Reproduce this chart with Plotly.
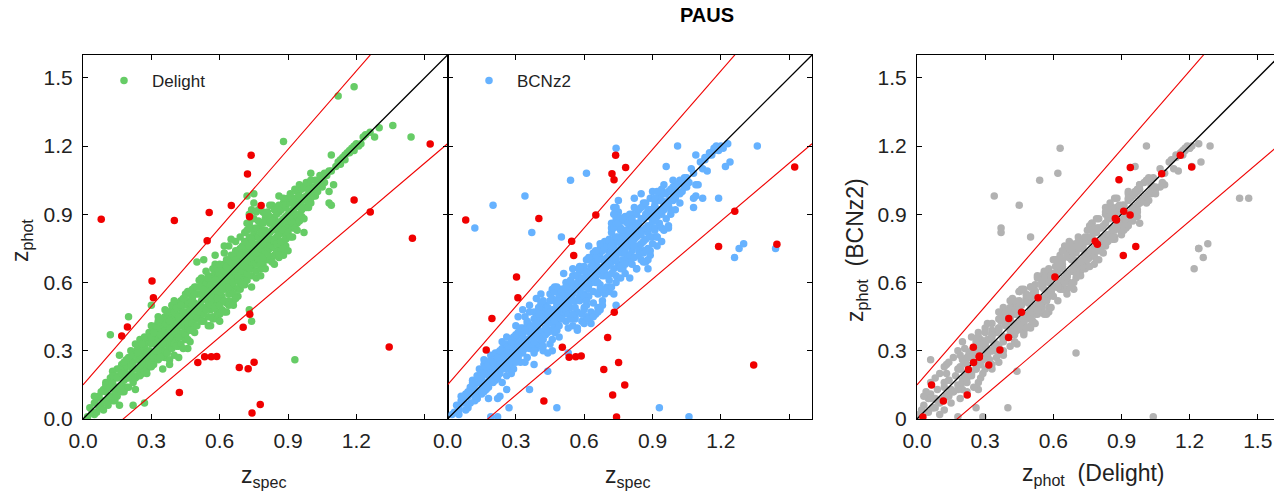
import plotly.graph_objects as go

# ---- main sample: spectroscopic redshift and two photo-z estimates (one entry per galaxy) ----
z_spec = [
    0.02,0.03,0.04,0.05,0.05,0.06,0.07,0.07,0.08,0.09,0.09,0.10,
    0.10,0.11,0.11,0.12,0.12,0.13,0.13,0.14,0.14,0.15,0.15,0.16,0.16,0.17,0.17,0.18,0.18,0.19,0.19,0.19,0.12,0.20,0.13,0.16,0.16,0.18,0.19,
    0.20,0.20,0.21,0.21,0.22,0.22,0.22,0.23,0.23,0.24,0.24,0.24,0.25,0.25,0.25,0.26,0.26,0.26,0.27,0.27,0.27,0.28,0.28,0.28,0.29,0.29,0.29,0.30,0.30,0.30,0.22,0.23,
    0.31,0.31,0.31,0.32,0.32,0.32,0.33,0.33,0.33,0.34,0.34,0.34,0.35,0.35,0.35,0.36,0.36,0.36,0.37,0.37,0.37,0.38,0.38,0.38,0.39,0.39,0.39,0.40,0.40,0.40,0.31,0.33,0.36,0.38,0.39,0.35,
    0.41,0.41,0.41,0.42,0.42,0.42,0.43,0.43,0.43,0.44,0.44,0.44,0.45,0.45,0.45,0.46,0.46,0.46,0.47,0.47,0.47,0.48,0.48,0.48,0.49,0.49,0.49,0.50,0.50,0.50,0.50,0.41,0.43,0.45,0.47,0.49,0.42,0.46,0.48,
    0.51,0.51,0.51,0.52,0.52,0.52,0.53,0.53,0.53,0.54,0.54,0.54,0.55,0.55,0.55,0.56,0.56,0.56,0.57,0.57,0.57,0.58,0.58,0.58,0.59,0.59,0.59,0.60,0.60,0.60,0.51,0.53,0.55,0.57,0.58,0.60,0.56,0.53,
    0.61,0.61,0.61,0.61,0.62,0.62,0.62,0.63,0.63,0.63,0.64,0.64,0.64,0.65,0.65,0.65,0.66,0.66,0.66,0.67,0.67,0.67,0.68,0.68,0.68,0.69,0.69,0.69,0.70,0.70,0.70,0.61,0.62,0.63,0.64,0.66,0.67,0.68,0.69,0.65,0.63,
    0.71,0.71,0.71,0.71,0.72,0.72,0.72,0.72,0.72,0.73,0.73,0.73,0.73,0.74,0.74,0.74,0.74,0.75,0.75,0.75,0.75,0.75,0.76,0.76,0.76,0.76,0.77,0.77,0.77,0.78,0.78,0.78,0.79,0.79,0.79,0.80,0.80,0.80,0.73,0.74,0.71,0.72,0.74,0.76,0.78,0.79,0.77,0.79,
    0.81,0.81,0.81,0.82,0.82,0.82,0.83,0.83,0.83,0.84,0.84,0.84,0.85,0.85,0.85,0.86,0.86,0.86,0.87,0.87,0.88,0.88,0.88,0.88,0.89,0.89,0.89,0.90,0.90,0.90,0.81,0.82,0.83,0.85,0.86,0.87,0.88,0.89,0.80,
    0.91,0.91,0.91,0.92,0.92,0.92,0.93,0.93,0.93,0.93,0.94,0.94,0.94,0.95,0.95,0.95,0.96,0.96,0.96,0.97,0.97,0.98,0.98,0.99,0.99,1.00,1.00,0.92,
    1.00,1.01,1.01,1.02,1.02,1.03,1.04,1.05,1.06,1.07,1.08,1.08,1.09,1.10,1.09,1.09,1.11,1.12,1.12,1.13,1.14,1.15,1.16,1.17,1.18,1.19,1.19,1.20,1.22,1.24,1.23,1.26,1.28,1.30,1.36,1.44,
    0.05,0.06,0.08,0.09,0.10,0.11,0.12,0.13,0.14,0.15,0.15,0.16,0.17,0.17,0.18,0.18,0.19,0.20,0.20,0.21,0.21,0.22,0.22,0.23,0.23,0.24,0.24,0.25,0.25,0.26,0.26,0.27,0.27,0.28,0.28,0.29,0.29,0.30,0.30,0.30,
    0.31,0.31,0.32,0.32,0.33,0.33,0.34,0.34,0.35,0.35,0.36,0.36,0.37,0.37,0.38,0.38,0.39,0.39,0.40,0.40,0.40,0.41,0.41,0.42,0.42,0.43,0.43,0.44,0.44,0.44,0.45,0.45,0.45,0.46,0.46,0.46,0.47,0.47,0.47,0.48,0.48,0.48,0.49,0.49,0.49,0.50,0.50,0.50,0.42,0.44,0.46,0.38,0.36,0.34,0.40,
    0.51,0.51,0.52,0.52,0.53,0.53,0.54,0.54,0.55,0.55,0.56,0.56,0.57,0.57,0.58,0.58,0.59,0.59,0.60,0.60,0.60,0.61,0.61,0.62,0.62,0.63,0.63,0.64,0.64,0.64,0.65,0.65,0.66,0.66,0.66,0.67,0.67,0.68,0.68,0.68,0.69,0.69,0.69,0.70,0.70,0.70,0.57,0.59,0.62,0.64,0.66,0.60,0.55,0.67,0.54,0.58,0.62,0.65,0.52,0.69,
    0.71,0.71,0.72,0.72,0.72,0.73,0.73,0.73,0.74,0.74,0.74,0.74,0.75,0.75,0.75,0.76,0.76,0.76,0.77,0.77,0.77,0.78,0.78,0.78,0.79,0.79,0.79,0.80,0.80,0.80,0.81,0.81,0.81,0.82,0.82,0.82,0.83,0.83,0.84,0.84,0.84,0.85,0.85,0.85,0.86,0.86,0.86,0.87,0.87,0.87,0.88,0.88,0.88,0.89,0.89,0.89,0.90,0.90,0.90,0.78,0.80,0.83,0.86,0.76,0.73,
    0.91,0.91,0.91,0.92,0.92,0.93,0.93,0.94,0.94,0.94,0.95,0.95,0.96,0.96,0.97,0.97,0.97,0.98,0.98,0.99,0.99,1.00,1.00,1.01,1.02,1.03,1.04,1.05,1.06,1.08,
    1.13,1.15,1.17,1.19,1.21,
]
z_delight = [
    0.01,0.05,0.03,0.07,0.02,0.09,0.05,0.10,0.06,0.13,0.08,0.12,
    0.16,0.09,0.14,0.18,0.10,0.16,0.21,0.12,0.19,0.14,0.22,0.13,0.19,0.24,0.15,0.21,0.17,0.26,0.14,0.23,0.37,0.45,0.08,0.28,0.06,0.12,0.18,
    0.18,0.24,0.27,0.20,0.25,0.19,0.06,0.29,0.22,0.26,0.31,0.19,0.28,0.23,0.33,0.24,0.30,0.20,0.07,0.27,0.32,0.25,0.34,0.22,0.30,0.36,0.26,0.28,0.33,0.50,0.29,0.13,
    0.29,0.35,0.24,0.33,0.38,0.27,0.31,0.36,0.40,0.32,0.29,0.34,0.38,0.41,0.30,0.35,0.39,0.27,0.42,0.33,0.37,0.40,0.31,0.45,0.36,0.43,0.34,0.38,0.44,0.28,0.40,0.45,0.45,0.26,0.48,0.22,
    0.40,0.46,0.35,0.43,0.38,0.49,0.41,0.46,0.36,0.44,0.50,0.44,0.47,0.41,0.52,0.45,0.39,0.50,0.48,0.43,0.34,0.47,0.53,0.40,0.44,0.51,0.38,0.49,0.55,0.69,0.50,0.51,0.52,0.35,0.55,0.58,0.32,0.31,0.39,
    0.50,0.55,0.44,0.52,0.58,0.46,0.54,0.49,0.60,0.53,0.57,0.54,0.51,0.59,0.45,0.56,0.61,0.48,0.55,0.63,0.50,0.58,0.52,0.65,0.56,0.62,0.47,0.59,0.64,0.52,0.61,0.43,0.63,0.44,0.68,0.46,0.41,0.70,
    0.60,0.66,0.54,0.62,0.62,0.57,0.68,0.64,0.59,0.70,0.63,0.55,0.67,0.65,0.60,0.72,0.64,0.58,0.69,0.67,0.62,0.74,0.66,0.70,0.57,0.69,0.64,0.75,0.68,0.62,0.73,0.48,0.73,0.51,0.76,0.52,0.78,0.54,0.59,0.56,0.47,
    0.70,0.75,0.64,0.82,0.72,0.67,0.78,0.86,0.98,0.73,0.69,0.80,0.90,0.74,0.84,0.66,0.63,0.75,0.99,0.70,0.82,0.88,0.76,0.71,0.80,0.65,0.77,0.73,0.84,0.78,0.72,0.86,0.79,0.74,0.83,0.80,0.76,0.88,0.48,0.43,0.59,0.61,0.58,0.62,0.66,0.68,0.92,0.91,
    0.81,0.77,0.87,0.82,0.78,0.89,0.83,0.79,0.94,0.84,0.72,0.88,0.85,0.80,0.93,0.86,0.76,0.91,0.87,0.82,1.22,0.88,0.78,0.95,0.89,0.84,0.76,0.90,0.85,0.97,0.70,0.94,0.71,0.74,0.98,0.74,0.72,0.80,0.73,
    0.91,0.86,0.99,0.92,0.88,0.80,0.93,0.26,0.89,1.01,0.94,0.86,0.97,0.95,0.90,1.03,0.96,0.92,0.96,0.97,0.82,0.98,0.93,0.99,1.04,1.00,0.95,0.84,
    1.08,1.01,1.02,1.02,0.98,1.03,1.04,1.05,1.04,1.07,1.00,0.95,0.94,1.03,1.16,1.09,1.11,1.42,1.13,1.14,1.15,1.16,1.17,1.18,1.19,1.46,1.20,1.21,1.21,1.25,1.24,1.26,1.24,1.28,1.29,1.24,
    0.10,0.03,0.12,0.04,0.15,0.06,0.14,0.19,0.08,0.18,0.10,0.22,0.12,0.20,0.25,0.13,0.20,0.27,0.14,0.23,0.30,0.16,0.28,0.18,0.33,0.22,0.29,0.19,0.35,0.27,0.33,0.21,0.36,0.29,0.20,0.38,0.24,0.36,0.23,0.41,
    0.38,0.27,0.41,0.30,0.26,0.43,0.37,0.27,0.44,0.33,0.42,0.30,0.47,0.29,0.36,0.43,0.50,0.31,0.41,0.47,0.33,0.49,0.32,0.45,0.36,0.50,0.33,0.53,0.38,0.47,0.43,0.55,0.37,0.52,0.42,0.56,0.39,0.51,0.45,0.57,0.42,0.50,0.47,0.41,0.55,0.45,0.58,0.41,0.27,0.31,0.35,0.24,0.48,0.44,0.52,
    0.47,0.58,0.55,0.43,0.57,0.46,0.60,0.48,0.55,0.62,0.50,0.59,0.53,0.66,0.49,0.61,0.53,0.66,0.56,0.68,0.50,0.64,0.57,0.52,0.65,0.61,0.67,0.58,0.70,0.52,0.63,0.69,0.60,0.72,0.55,0.64,0.70,0.61,0.74,0.63,0.66,0.72,0.57,0.65,0.76,0.59,0.45,0.44,0.47,0.50,0.50,0.43,0.41,0.53,0.65,0.72,0.76,0.79,0.62,0.80,
    0.67,0.78,0.70,0.64,0.83,0.76,0.66,0.86,0.71,0.79,0.92,0.88,0.68,0.77,0.95,0.73,0.84,0.68,0.80,0.70,0.87,0.75,0.82,0.69,0.77,0.86,0.71,0.83,0.74,0.90,0.79,0.73,0.91,0.75,0.86,0.70,0.87,0.76,0.92,0.78,0.68,0.83,0.90,0.77,0.81,0.94,0.71,0.85,0.92,0.78,0.83,0.97,0.75,0.87,0.93,0.79,0.82,0.95,0.74,0.63,0.66,0.69,0.72,0.91,0.84,
    0.88,0.95,0.80,0.96,0.86,0.97,0.84,0.90,1.00,0.83,0.98,0.87,1.01,0.89,0.93,1.02,0.88,0.96,1.04,0.93,1.01,0.97,1.05,0.98,1.05,1.00,1.07,1.02,1.08,1.09,
    1.12,1.14,1.17,1.18,1.20,
]
z_bcnz = [
    0.02,0.03,0.06,0.05,0.04,0.08,0.09,0.07,0.11,0.10,0.05,0.14,
    0.12,0.13,0.17,0.15,0.08,0.12,0.19,0.16,0.22,0.11,0.18,0.20,0.15,0.21,0.13,0.25,0.19,0.22,0.17,0.28,0.84,0.94,0.09,0.24,0.26,0.09,0.01,
    0.22,0.20,0.25,0.17,0.29,0.23,0.09,0.26,0.20,0.31,0.28,0.22,0.24,0.27,0.30,0.19,0.33,0.13,0.05,0.29,0.26,0.30,0.33,0.24,0.27,0.32,0.22,0.35,0.30,0.41,0.01,0.10,
    0.33,0.31,0.27,0.37,0.34,0.25,0.29,0.40,0.36,0.35,0.31,0.98,0.35,0.43,0.33,0.31,0.41,0.13,0.38,0.36,0.82,0.44,0.29,0.40,0.39,0.46,0.31,0.36,0.42,0.33,0.45,0.48,0.50,0.24,0.53,0.27,
    0.43,0.44,0.38,0.47,0.35,0.45,0.44,0.50,0.40,0.42,0.48,0.21,0.45,0.39,0.55,0.48,0.43,0.47,0.52,0.41,0.38,0.45,0.50,0.05,0.48,0.54,0.36,0.46,0.53,0.57,0.80,0.55,0.49,0.33,0.58,0.55,0.30,0.35,0.42,
    0.52,0.50,0.46,0.56,0.54,0.43,0.51,0.53,0.58,0.49,0.61,1.05,0.55,0.56,0.41,0.52,0.63,0.45,0.59,0.60,0.47,0.54,0.56,0.62,0.60,0.58,0.43,0.55,0.67,0.49,0.64,0.40,0.66,0.39,0.65,0.42,0.44,0.29,
    0.62,0.63,0.50,1.08,0.65,0.54,0.70,0.60,0.62,0.67,0.66,0.51,0.71,0.62,0.64,0.69,0.67,0.55,0.65,0.71,0.59,0.73,0.63,0.74,0.52,0.66,0.68,0.78,0.71,0.58,0.69,0.45,0.76,0.47,0.73,0.49,0.75,0.50,0.55,0.46,0.42,
    0.73,0.72,0.61,0.79,0.69,0.71,0.82,0.84,0.86,0.76,0.66,0.77,0.93,0.71,0.88,0.63,1.19,0.78,0.96,0.68,0.80,0.91,0.73,0.75,0.84,0.62,0.80,0.70,0.81,0.75,0.76,0.89,0.82,0.71,0.79,0.77,0.80,0.85,0.55,0.50,0.56,0.58,0.60,0.66,0.64,0.72,0.87,0.88,
    0.84,0.74,0.90,0.79,0.82,0.86,0.86,0.76,0.90,0.81,0.76,0.92,0.88,0.77,0.99,0.83,0.73,0.94,0.90,0.79,0.66,0.85,0.82,0.92,0.92,0.80,0.72,0.87,0.89,1.00,0.68,0.97,0.66,0.70,0.95,0.69,0.75,0.74,0.69,
    0.94,0.83,0.96,0.89,0.91,0.76,0.96,0.05,0.86,0.98,0.91,0.90,1.01,0.92,0.94,0.99,0.99,0.88,1.11,0.94,0.85,1.01,0.90,0.96,1.02,0.97,0.98,0.80,
    1.03,1.20,0.99,1.05,0.95,1.00,1.06,1.02,0.01,1.10,0.97,0.93,0.98,1.03,1.16,1.03,1.13,0.97,1.10,1.15,1.09,1.17,1.16,1.19,1.20,0.97,1.19,1.20,1.11,1.13,1.21,0.71,0.75,0.77,1.20,0.75,
    0.02,0.10,0.04,0.12,0.07,0.16,0.10,0.09,0.18,0.13,0.20,0.12,0.23,0.16,0.14,0.24,0.26,0.16,0.25,0.29,0.22,0.27,0.18,0.30,0.24,0.16,0.34,0.28,0.27,0.36,0.22,0.31,0.29,0.20,0.34,0.30,0.36,0.25,0.29,0.37,
    0.28,0.38,0.32,0.40,0.34,0.37,0.45,0.25,0.33,0.42,0.47,0.38,0.41,0.33,0.47,0.34,0.44,0.42,0.49,0.37,0.39,0.51,0.35,0.52,0.44,0.40,0.37,0.46,0.49,0.38,0.52,0.47,0.43,0.42,0.53,0.57,0.47,0.43,0.56,0.52,0.39,0.58,0.41,0.52,0.48,0.56,0.49,0.44,0.32,0.29,0.30,0.30,0.40,0.39,0.46,
    0.57,0.47,0.60,0.48,0.46,0.57,0.54,0.44,0.63,0.52,0.58,0.49,0.63,0.57,0.52,0.67,0.62,0.55,0.65,0.58,0.54,0.70,0.52,0.59,0.57,0.70,0.60,0.66,0.62,0.56,0.72,0.60,0.70,0.65,0.60,0.57,0.77,0.70,0.66,0.57,0.75,0.63,0.64,0.76,0.67,0.63,0.40,0.46,0.44,0.45,0.47,0.48,0.46,0.48,0.60,0.66,0.71,0.74,0.58,0.70,
    0.78,0.68,0.64,0.74,0.76,0.84,0.72,0.79,0.80,0.70,0.86,0.93,0.74,0.86,0.89,0.67,0.78,0.77,0.88,0.66,0.79,0.83,0.73,0.70,0.86,0.80,0.76,0.90,0.72,0.82,0.88,0.78,0.84,0.71,0.93,0.76,0.80,0.85,0.86,0.72,0.74,0.93,0.81,0.83,0.74,0.88,0.78,0.95,0.84,0.74,0.91,0.89,0.70,0.97,0.85,0.84,0.77,0.92,0.80,0.68,0.62,0.66,0.69,0.83,0.90,
    0.97,0.87,0.84,1.00,0.80,0.91,0.92,0.84,0.96,0.78,1.03,0.83,0.95,0.94,1.00,0.96,0.84,0.92,1.00,0.97,1.05,0.92,1.01,1.03,0.99,1.04,1.02,1.06,1.04,1.08,
    1.14,1.16,1.18,1.18,1.19,
]

# ---- catastrophic outliers (red) ----
red_spec = [0.080,0.170,0.195,0.303,0.309,0.401,0.423,0.504,0.534,0.545,0.554,0.563,0.587,0.651,0.686,
            0.703,0.722,0.725,0.731,0.732,0.738,0.742,0.751,0.778,0.782,1.190,1.261,1.344,1.446,1.524]
red_delight = [0.878,0.365,0.404,0.607,0.533,0.873,0.116,0.248,0.274,0.784,0.908,0.274,0.275,0.938,0.226,
               0.403,1.077,0.221,0.889,0.460,1.159,0.026,0.249,0.064,0.939,0.963,0.910,0.316,0.794,1.209]
red_bcnz = [0.875,0.303,0.442,0.624,0.533,0.881,0.079,0.315,0.271,0.781,0.719,0.274,0.277,0.897,0.218,
            0.358,1.078,0.105,1.052,0.469,1.159,0.009,0.248,0.149,1.105,0.758,0.913,0.237,0.768,1.108]

assert len(z_spec) == len(z_delight) == len(z_bcnz)

outlier_cut = 0.15
line_x = [0.0, 1.6]
tick_vals = [0.0, 0.3, 0.6, 0.9, 1.2, 1.5]
tick_text_a = ["0.0", "0.3", "0.6", "0.9", "1.2", " "]
tick_text_full = ["0.0", "0.3", "0.6", "0.9", "1.2", "1.5"]
tick_text_y3 = ["0", "0.3", "0.6", "0.9", "1.2", "1.5"]

GREEN = "rgb(102,204,102)"
BLUE = "rgb(102,178,255)"
GRAY = "rgb(178,178,178)"
RED = "rgb(240,0,0)"
FONT = "Liberation Sans, Arial, Helvetica, sans-serif"
MS = 7.5

# page pixel -> paper fraction (the page body has an 8px margin)
W, H = 1282, 495
OFF = 8
def px(x):
    return (x - OFF) / W
def py(y):
    return 1 - (y - OFF) / H

fig = go.Figure()

panels = [
    ("x", "y", z_spec, z_delight, red_spec, red_delight, GREEN, "Delight", "legend"),
    ("x2", "y2", z_spec, z_bcnz, red_spec, red_bcnz, BLUE, "BCNz2", "legend2"),
    ("x3", "y3", z_delight, z_bcnz, red_delight, red_bcnz, GRAY, None, None),
]

for xa, ya, xs, ys, rx, ry, col, name, leg in panels:
    tr = dict(x=xs, y=ys, mode="markers", xaxis=xa, yaxis=ya,
              marker=dict(color=col, size=MS, line=dict(width=0)),
              hoverinfo="skip")
    if name:
        tr.update(name=name, showlegend=True, legend=leg)
    else:
        tr.update(showlegend=False)
    fig.add_trace(go.Scatter(**tr))
    fig.add_trace(go.Scatter(x=line_x, y=line_x, mode="lines", xaxis=xa, yaxis=ya,
                             line=dict(color="black", width=1.3), showlegend=False, hoverinfo="skip"))
    up = [v + outlier_cut * (1 + v) for v in line_x]
    lo = [v - outlier_cut * (1 + v) for v in line_x]
    for yy in (up, lo):
        fig.add_trace(go.Scatter(x=line_x, y=yy, mode="lines", xaxis=xa, yaxis=ya,
                                 line=dict(color=RED, width=1.1), showlegend=False, hoverinfo="skip"))
    fig.add_trace(go.Scatter(x=rx, y=ry, mode="markers", xaxis=xa, yaxis=ya,
                             marker=dict(color=RED, size=MS, line=dict(width=0)),
                             showlegend=False, hoverinfo="skip"))

y_dom = [py(419), py(55)]
axis_common = dict(range=[0, 1.6], showgrid=False, zeroline=False, showline=True,
                   linecolor="black", linewidth=1, mirror="ticks", ticks="inside",
                   ticklen=5, tickwidth=1, tickcolor="black", tickvals=tick_vals,
                   automargin=False,
                   tickfont=dict(family=FONT, size=21, color="#222"))
xtick = dict(ticklabelstandoff=3)
ytick = dict(ticklabelstandoff=5)
title_font = dict(family=FONT, size=23, color="#222")

fig.update_layout(
    width=W, height=H, margin=dict(l=0, r=0, t=0, b=0, autoexpand=False),
    plot_bgcolor="white", paper_bgcolor="white",
    xaxis=dict(domain=[px(83), px(447.5)], ticktext=tick_text_a, anchor="y", **xtick, **axis_common),
    yaxis=dict(domain=y_dom, ticktext=tick_text_full, anchor="x", **ytick, **axis_common),
    xaxis2=dict(domain=[px(447.5), px(812)], ticktext=tick_text_a, anchor="y2", **xtick, **axis_common),
    yaxis2=dict(domain=y_dom, ticktext=tick_text_full, anchor="x2", showticklabels=False, **axis_common),
    xaxis3=dict(domain=[px(917), px(1280.5)], ticktext=tick_text_full, anchor="y3", **xtick, **axis_common),
    yaxis3=dict(domain=y_dom, ticktext=tick_text_y3, anchor="x3", **ytick, **axis_common),
    legend=dict(x=px(96), y=py(81), xanchor="left", yanchor="middle", bgcolor="rgba(0,0,0,0)",
                borderwidth=0, itemwidth=46, font=dict(family=FONT, size=17, color="#222")),
    legend2=dict(x=px(461), y=py(81), xanchor="left", yanchor="middle", bgcolor="rgba(0,0,0,0)",
                 borderwidth=0, itemwidth=46, font=dict(family=FONT, size=17, color="#222")),
)

titles = [
    ("<b>PAUS</b>", 707, 15, 0, dict(family=FONT, size=20, color="black")),
    ("z<sub>spec</sub>", 264, 476, 0, title_font),
    ("z<sub>spec</sub>", 628, 476, 0, title_font),
    ("z<sub>phot</sub>  (Delight)", 1093, 474, 0, title_font),
    ("z<sub>phot</sub>", 22, 241, -90, title_font),
    ("z<sub>phot</sub>  (BCNz2)", 856, 250, -90, title_font),
]
for text, x, y, ang, fnt in titles:
    fig.add_annotation(text=text, x=px(x), y=py(y), xref="paper", yref="paper",
                       xanchor="center", yanchor="middle", textangle=ang,
                       showarrow=False, font=fnt)

fig.write_html("out.html")
